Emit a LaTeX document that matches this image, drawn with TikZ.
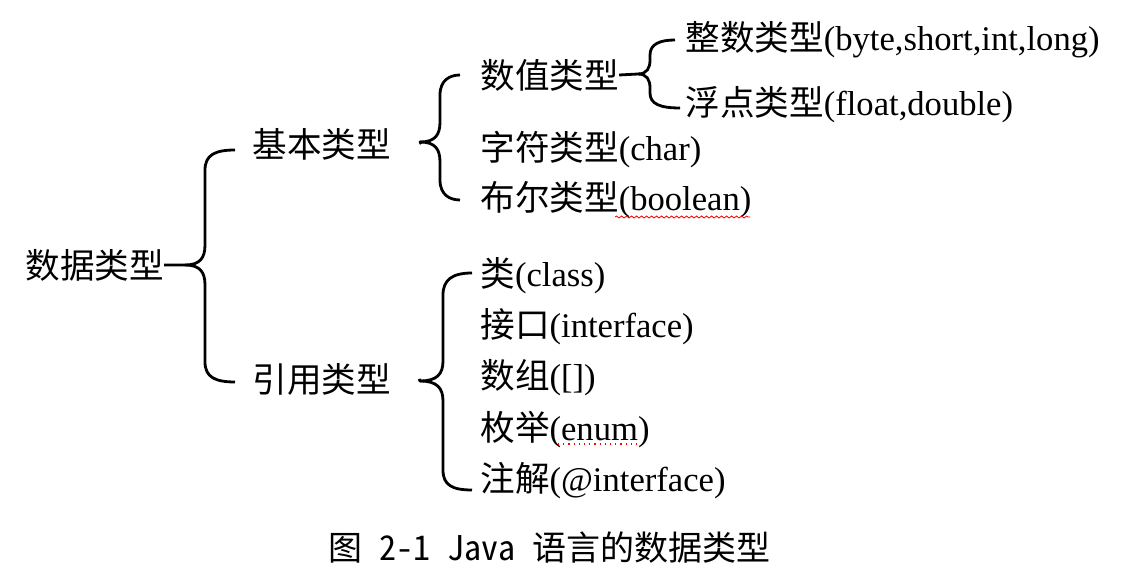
\documentclass[tikz,border=0pt]{standalone}
\usepackage{fontspec}
\setmainfont{Liberation Serif}
\newfontfamily\cjk{Noto Sans CJK SC}
\newfontfamily\half[RawFeature=+hwid]{Noto Sans CJK SC}
\usetikzlibrary{decorations.pathmorphing}
\newcommand{\zh}[1]{{\cjk #1}}
\begin{document}
\begin{tikzpicture}[x=0.5pt,y=-0.5pt,
    item/.style={anchor=west,inner sep=0pt,font=\fontsize{17.3}{20}\selectfont},
    brace/.style={line width=1.4pt,line join=round}]
    \useasboundingbox (0,0) rectangle (1139,587);

    \node[item] (root) at (25,265) {\zh{数据类型}};
    \node[item] (basic) at (252,144) {\zh{基本类型}};
    \node[item] (ref) at (252,379) {\zh{引用类型}};

    \node[item] (num) at (480,75) {\zh{数值类型}};
    \node[item] (char) at (480,150) {\zh{字符类型}(char)};
    \node[item] (bool) at (480,200) {\zh{布尔类型}(boolean)};
    \node[item] (int) at (685,40) {\zh{整数类型}(byte,short,int,long)};
    \node[item] (float) at (685,105) {\zh{浮点类型}(float,double)};

    \node[item] (class) at (480,276) {\zh{类}(class)};
    \node[item] (iface) at (480,327) {\zh{接口}(interface)};
    \node[item] (arr) at (480,378) {\zh{数组}([])};
    \node[item] (enum) at (480,430) {\zh{枚举}(enum)};
    \node[item] (anno) at (480,481) {\zh{注解}(@interface)};

    % braces
    \draw[brace] (root.east) -- (185,265) .. controls (200,265) and (205,258) .. (205,245)
      -- (205,170) .. controls (205,155) and (215,150) .. ([shift={(-17,6)}]basic.west);
    \draw[brace] (185,265) .. controls (200,265) and (205,272) .. (205,285)
      -- (205,362) .. controls (205,377) and (215,382) .. ([shift={(-17,3)}]ref.west);

    \draw[brace] ([xshift=15]basic.east) -- (420,142) .. controls (435,142) and (440,135) .. (440,122)
      -- (440,95) .. controls (440,80) and (450,75) .. ([xshift=-10]num.west);
    \draw[brace] (420,142) .. controls (435,142) and (440,149) .. (440,162)
      -- (440,180) .. controls (440,195) and (450,200) .. ([xshift=-10]bool.west);

    \draw[brace] (num.east) -- (638,74) .. controls (647,74) and (650,68) .. (650,60)
      -- (650,55) .. controls (650,44) and (660,40) .. ([xshift=-5]int.west);
    \draw[brace] (638,74) .. controls (647,74) and (650,80) .. (650,88)
      -- (650,93) .. controls (650,104) and (660,108) .. ([shift={(-5,3)}]float.west);

    \draw[brace] ([xshift=14]ref.east) -- (420,381) .. controls (437,381) and (443,374) .. (443,361)
      -- (443,295) .. controls (443,280) and (452,273) .. ([shift={(-8,-3)}]class.west);
    \draw[brace] (420,381) .. controls (437,381) and (443,388) .. (443,401)
      -- (443,470) .. controls (443,485) and (452,490) .. ([shift={(-8,9)}]anno.west);

    % spell check marks
    \draw[red,line width=0.4pt,decorate,decoration={snake,amplitude=0.5pt,segment length=2.5pt}]
      (615,217) -- (750,217);
    \draw[red,line width=0.6pt,dotted] (558,444) -- (637,444);

    \node[anchor=west,inner sep=0pt,font=\fontsize{17}{20}\selectfont] (cap) at (328,548)
      {\zh{图}{\half\ 2-1 Java\ }\zh{语言的数据类型}};
\end{tikzpicture}
\end{document}
